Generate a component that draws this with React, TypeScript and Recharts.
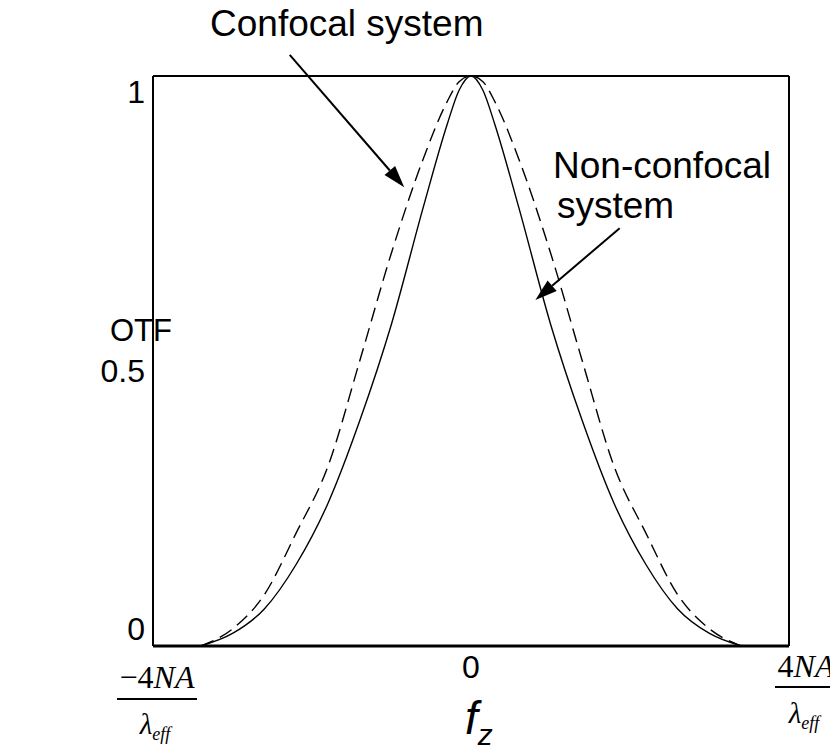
import { LineChart, Line, XAxis, YAxis, ReferenceLine } from "recharts"

// axial spatial frequency, in units of NA/lambda_eff
const freq = [-3.4, -3.0, -2.6, -2.2, -1.8, -1.4, -1.0, -0.6, -0.3, -0.15, 0, 0.15, 0.3, 0.6, 1.0, 1.4, 1.8, 2.2, 2.6, 3.0, 3.4]
const nonConfocal = [0, 0.022, 0.065, 0.143, 0.25, 0.395, 0.565, 0.77, 0.915, 0.975, 1, 0.975, 0.915, 0.77, 0.565, 0.395, 0.25, 0.143, 0.065, 0.022, 0]
const confocal = [0, 0.03, 0.09, 0.198, 0.315, 0.5, 0.69, 0.855, 0.955, 0.99, 1, 0.99, 0.955, 0.855, 0.69, 0.5, 0.315, 0.198, 0.09, 0.03, 0]
const xTicks = [-4, 0, 4]
const yTicks = [0, 0.5, 1]

const data = freq.map((f, i) => ({ f, nonConfocal: nonConfocal[i], confocal: confocal[i] }))

const SANS = "'Liberation Sans', Arial, sans-serif"
const SERIF = "'Liberation Serif', 'Times New Roman', serif"

function YTick({ x, y, payload }: any) {
  const dy = payload.value === 1 ? 27 : payload.value === 0.5 ? 21 : -6
  return (
    <text x={x} y={y + dy} textAnchor="end" fontFamily={SANS} fontSize={32} fill="#000">
      {payload.value}
    </text>
  )
}

function XTick({ x, y, payload }: any) {
  const v = payload.value
  if (v === 0) {
    return (
      <text x={x} y={y + 32} textAnchor="middle" fontFamily={SANS} fontSize={32} fill="#000">0</text>
    )
  }
  const left = v < 0
  const cx = x + (left ? 4 : 17)
  const top = left ? 42 : 31
  const bar = left ? 53 : 41
  const lam = left ? 88 : 77
  const half = left ? 40 : 31
  return (
    <g>
      <text x={cx} y={y + top} textAnchor="middle" fontFamily={SERIF} fontSize={32} fill="#000">
        {left ? "\u22124" : "4"}<tspan fontStyle="italic">NA</tspan>
      </text>
      <line x1={cx - half} x2={cx + half} y1={y + bar} y2={y + bar} stroke="#000" strokeWidth={2} />
      <text x={cx - 2} y={y + lam} textAnchor="middle" fontFamily={SERIF} fontSize={29} fontStyle="italic" fill="#000">
        λ<tspan fontSize={18} dy={6}>eff</tspan>
      </text>
    </g>
  )
}

function Arrow(props: any) {
  const { x1, y1, x2, y2 } = props
  const ang = Math.atan2(y2 - y1, x2 - x1)
  const len = 22
  const w = 7
  const bx = x2 - len * Math.cos(ang)
  const by = y2 - len * Math.sin(ang)
  const px = -Math.sin(ang) * w
  const py = Math.cos(ang) * w
  return (
    <g>
      <line x1={x1} y1={y1} x2={bx} y2={by} stroke="#000" strokeWidth={2} />
      <polygon points={`${x2},${y2} ${bx + px},${by + py} ${bx - px},${by - py}`} fill="#000" />
    </g>
  )
}

export default function App() {
  return (
    <div style={{ position: "relative", width: 830, height: 744, background: "#fff" }}>
      <LineChart width={830} height={744} data={data} margin={{ top: 68, right: 49, left: 0, bottom: 0 }}>
        <XAxis
          dataKey="f"
          type="number"
          domain={[-4, 4]}
          ticks={xTicks}
          height={106}
          tickSize={0}
          tickMargin={0}
          tick={<XTick />}
          axisLine={{ stroke: "#000", strokeWidth: 3 }}
        />
        <YAxis
          type="number"
          domain={[0, 1]}
          ticks={yTicks}
          width={145}
          tickSize={0}
          tickMargin={8}
          tick={<YTick />}
          axisLine={{ stroke: "#000", strokeWidth: 2 }}
        />
        <ReferenceLine y={1} stroke="#000" strokeWidth={2} />
        <ReferenceLine x={4} stroke="#000" strokeWidth={2} />
        <Line dataKey="confocal" type="monotone" stroke="#000" strokeWidth={1.4} strokeDasharray="14 7" dot={false} isAnimationActive={false} />
        <Line dataKey="nonConfocal" type="monotone" stroke="#000" strokeWidth={1.4} dot={false} isAnimationActive={false} />
        <ReferenceLine
          segment={[{ x: -2.28, y: 1.037 }, { x: -0.84, y: 0.805 }]}
          ifOverflow="visible"
          shape={Arrow}
        />
        <ReferenceLine
          segment={[{ x: 1.87, y: 0.733 }, { x: 0.81, y: 0.607 }]}
          ifOverflow="visible"
          shape={Arrow}
        />
      </LineChart>
      <svg width={830} height={744} style={{ position: "absolute", left: 0, top: 0, pointerEvents: "none", overflow: "visible" }}>
        <text x={202} y={28} fontFamily={SANS} fontSize={37} fill="#000">Confocal system</text>
        <text x={545} y={170} fontFamily={SANS} fontSize={37} fill="#000">Non-confocal</text>
        <text x={549} y={210} fontFamily={SANS} fontSize={37} fill="#000">system</text>
        <text x={102} y={333} fontFamily={SANS} fontSize={31} fill="#000">OTF</text>
        <text x={457} y={726} fontFamily={SANS} fontSize={46} fontStyle="italic" fill="#000">
          f<tspan fontSize={30} dy={11}>z</tspan>
        </text>
      </svg>
    </div>
  )
}
